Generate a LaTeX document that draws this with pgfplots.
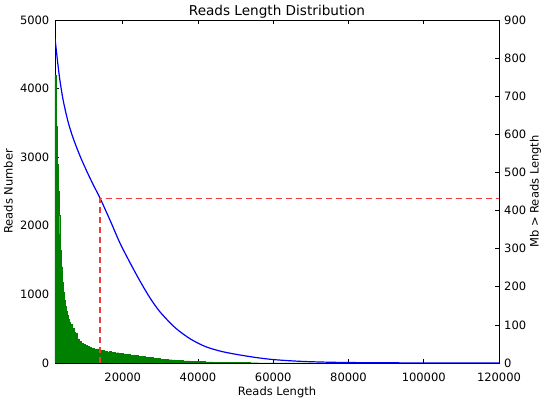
\documentclass[border=0pt]{standalone}
\usepackage{fontspec}
\setmainfont{DejaVu Sans}
\usepackage{pgfplots}
\pgfplotsset{compat=1.18}
\usetikzlibrary{calc}
\definecolor{hgreen}{HTML}{008000}
\definecolor{cblue}{HTML}{0000FF}
\definecolor{nred}{HTML}{EE3A3A}

\pgfplotsset{
  base/.style={
    scale only axis, width=444bp, height=343bp,
    xmin=2000, xmax=120000,
    tick align=inside, major tick length=4bp,
    every tick/.style={black, line width=0.6bp},
    axis line style={black, line width=0.9bp},
    tick label style={font=\fontsize{11.5bp}{13bp}\selectfont,
      /pgf/number format/fixed,
      /pgf/number format/precision=0,
      /pgf/number format/assume math mode=true,
      /pgf/number format/1000 sep={}},
    label style={font=\fontsize{11.5bp}{13bp}\selectfont},
    scaled ticks=false,
  }
}

\begin{document}
\begin{tikzpicture}
\begin{axis}[base, name=main,
    ymin=0, ymax=5000,
    xtick={20000,40000,60000,80000,100000,120000},
    ytick={0,1000,2000,3000,4000,5000},
    xtick pos=both, xticklabel pos=lower, ytick pos=left,
    xticklabel style={inner sep=0pt, anchor=north, yshift=-9.5bp},
    yticklabel style={inner sep=0pt, anchor=east, xshift=-5.5bp},
    title={Reads Length Distribution},
    title style={font=\fontsize{13.6bp}{15bp}\selectfont, at={(axis description cs:0.5,1)}, anchor=base, yshift=-1bp},
    xlabel={Reads Length},
    xlabel style={at={(axis description cs:0.5,0)}, anchor=base, yshift=-32.5bp},
    ylabel={Reads Number},
    ylabel style={at={(axis description cs:-0.0957,0.5)}, anchor=base},
  ]
\addplot[const plot mark left, fill=hgreen, draw=hgreen, line width=0.4bp] coordinates {
(2000,4200) (2350,3450) (2600,2900) (2800,2500) (3000,2150) (3250,1880) (3500,1650) (3750,1400)
(4000,1180) (4250,1030) (4500,920) (4750,830) (5000,750) (5250,690) (5500,640) (5750,600)
(6000,565) (6500,505) (7000,445) (7500,432) (8000,350) (8500,318) (9000,288) (9500,270)
(10000,258) (10500,242) (11000,236) (11500,220) (12000,214) (12500,202) (13000,206) (13500,190)
(14000,184) (14500,188) (15000,172) (15500,178) (16000,162) (16500,168) (17000,155) (17500,160)
(18000,146) (18500,150) (19000,140) (19500,144)
(20000,133) (21000,128) (22000,116) (23000,112) (24000,100) (25000,94) (26000,84) (27000,80)
(28000,70) (29000,66) (30000,58) (31000,55) (32000,48) (33000,45) (34000,40) (35000,37)
(36000,32) (37000,30) (38000,26) (39000,24) (40000,20) (41000,19) (42000,16) (43000,15)
(44000,13) (45000,12) (46000,10) (47000,10) (48000,8) (49000,8) (50000,6) (51000,6)
(52000,5) (53000,5) (54000,4) (55000,4) (56000,3) (57000,3) (58000,2) (59000,2)
(60000,2) (62000,1) (64000,1) (66000,1) (68000,1) (70000,0)
} \closedcycle;
\end{axis}
\begin{axis}[base,
    ymin=0, ymax=900,
    axis x line=none, axis y line*=right,
    ytick={0,100,200,300,400,500,600,700,800,900},
    yticklabel style={inner sep=0pt, anchor=west, xshift=5bp},
    ylabel={Mb > Reads Length},
    ylabel style={at={(axis description cs:1.089,0.5)}, anchor=base, rotate=0},
  ]
\addplot[cblue, line width=1.2bp, smooth, tension=0.5] coordinates {
(2000,852) (2700,790) (3300,742) (4200,688) (5500,632) (6900,588) (8700,542) (10500,502)
(12200,467) (14000,432) (16700,373) (19300,314) (22000,262) (24700,213) (27300,170) (30000,133)
(34000,92) (38000,63) (42000,43) (46000,31) (50000,23) (55000,15) (60000,9) (67000,4.5)
(75000,2) (85000,0.8) (100000,0.2) (120000,0)
};
\addplot[nred, dash pattern=on 6bp off 4bp, line width=1.5bp] coordinates {
(14000,0) (14000,432) (120000,432)
};
\end{axis}
\pgfresetboundingbox
\path[use as bounding box] ($(main.south west)+(-55bp,-41bp)$) rectangle ++(546bp,404bp);
\end{tikzpicture}
\end{document}
